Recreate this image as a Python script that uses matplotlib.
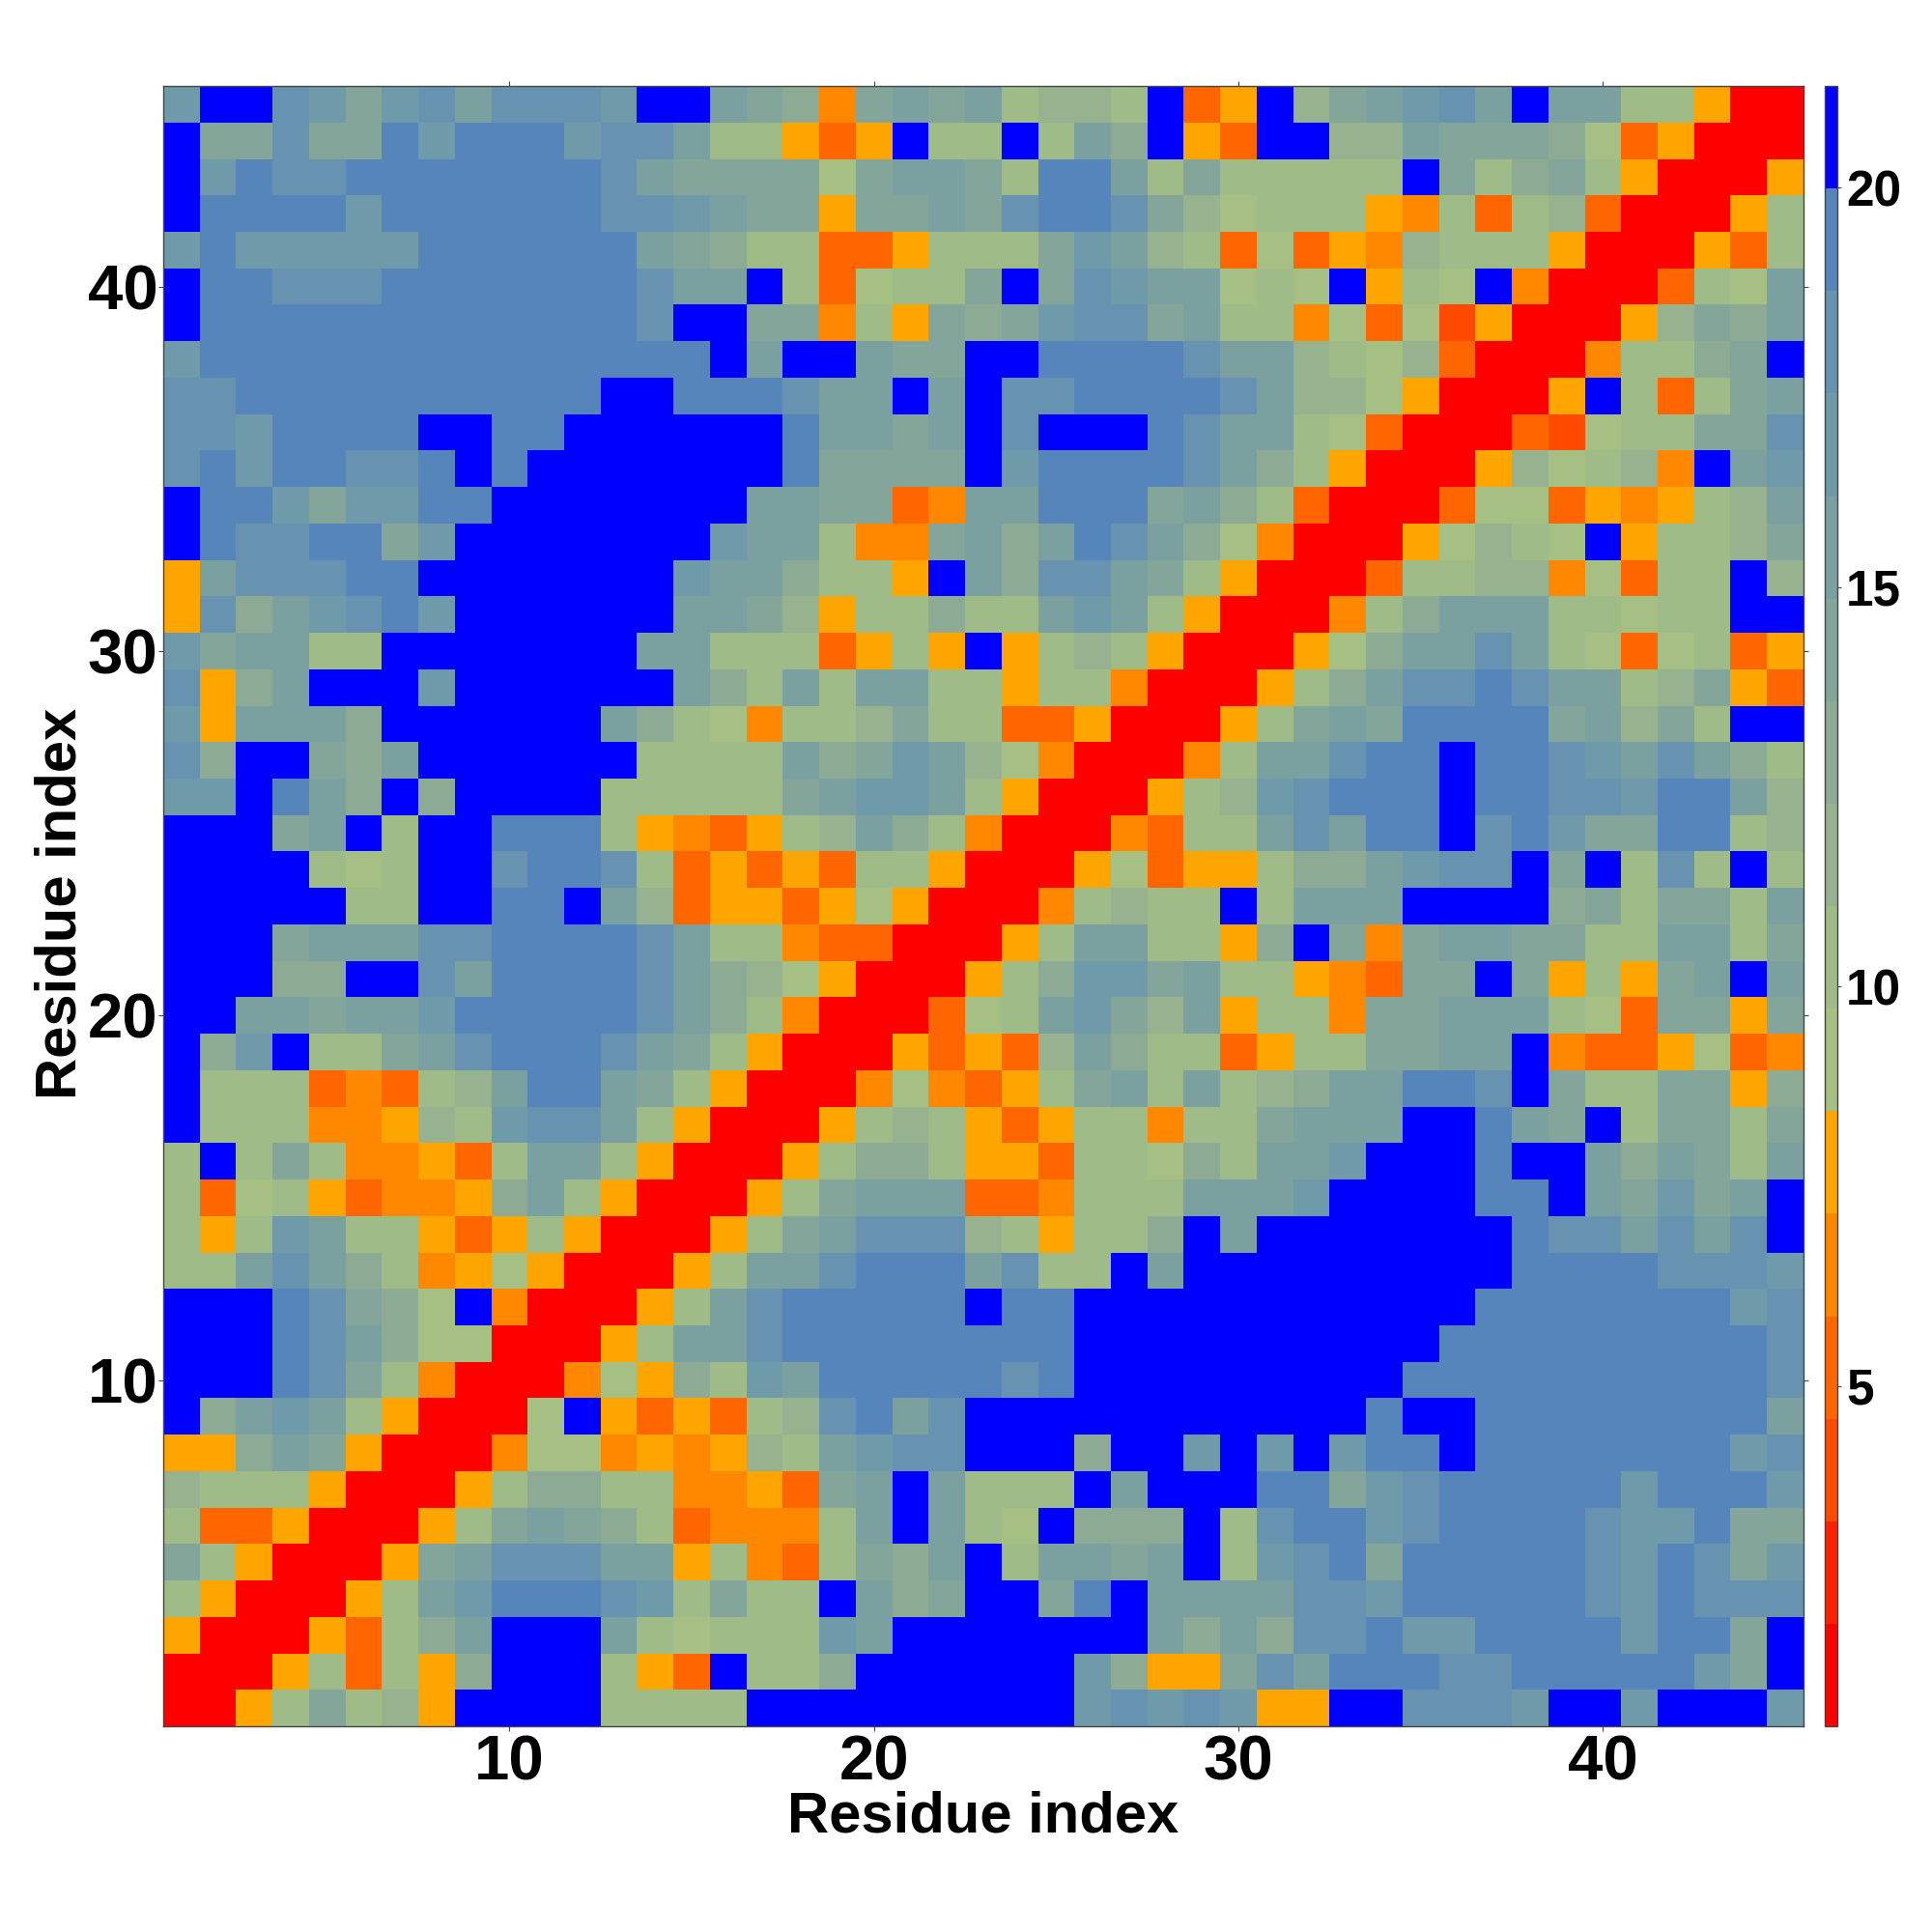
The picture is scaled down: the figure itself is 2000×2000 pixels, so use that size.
import matplotlib
matplotlib.use('Agg')
import matplotlib.pyplot as plt
from matplotlib.colors import ListedColormap, BoundaryNorm
import numpy as np

# distances, lower triangle only (row i has i values), the map is symmetric
rows = [
    [1],
    [1, 1],
    [8, 1, 1],
    [10, 8, 1, 1],
    [14, 10, 8, 1, 1],
    [10, 5, 5, 8, 1, 1],
    [12, 10, 10, 10, 8, 1, 1],
    [8, 8, 13, 15, 14, 8, 1, 1],
    [21, 13, 15, 17, 15, 10, 8, 1, 1],
    [21, 21, 21, 19, 18, 14, 10, 6, 1, 1],
    [21, 21, 21, 19, 18, 15, 13, 9, 9, 1, 1],
    [21, 21, 21, 19, 18, 14, 13, 9, 21, 6, 1, 1],
    [10, 10, 15, 18, 15, 13, 10, 6, 8, 9, 8, 1, 1],
    [10, 8, 10, 17, 15, 10, 10, 8, 5, 8, 10, 8, 1, 1],
    [10, 5, 9, 10, 8, 5, 6, 6, 8, 13, 15, 10, 8, 1, 1],
    [10, 21, 10, 14, 10, 6, 6, 8, 5, 10, 15, 15, 10, 8, 1, 1],
    [21, 10, 10, 10, 6, 6, 8, 12, 10, 17, 18, 18, 15, 10, 8, 1, 1],
    [21, 10, 10, 10, 5, 6, 5, 10, 12, 15, 19, 19, 15, 14, 10, 8, 1, 1],
    [21, 13, 17, 21, 10, 10, 14, 15, 18, 19, 19, 19, 18, 15, 14, 10, 8, 1, 1],
    [21, 21, 15, 15, 14, 15, 15, 17, 19, 19, 19, 19, 19, 18, 15, 13, 10, 6, 1, 1],
    [21, 21, 21, 13, 13, 21, 21, 18, 15, 19, 19, 19, 19, 18, 15, 13, 12, 9, 8, 1, 1],
    [21, 21, 21, 14, 15, 15, 15, 18, 18, 19, 19, 19, 19, 18, 15, 10, 10, 6, 5, 5, 1, 1],
    [21, 21, 21, 21, 21, 10, 10, 21, 21, 19, 19, 21, 15, 12, 5, 8, 8, 5, 8, 9, 8, 1, 1],
    [21, 21, 21, 21, 10, 9, 10, 21, 21, 18, 19, 19, 18, 10, 5, 8, 5, 8, 5, 10, 10, 8, 1, 1],
    [21, 21, 21, 14, 15, 21, 10, 21, 21, 19, 19, 19, 10, 8, 6, 5, 8, 10, 12, 15, 13, 10, 6, 1, 1],
    [17, 17, 21, 19, 15, 13, 21, 13, 21, 21, 21, 21, 10, 10, 10, 10, 10, 14, 15, 17, 17, 15, 10, 8, 1, 1],
    [18, 13, 21, 21, 14, 13, 15, 21, 21, 21, 21, 21, 21, 10, 10, 10, 10, 15, 13, 14, 17, 15, 12, 9, 6, 1, 1],
    [17, 8, 15, 15, 15, 13, 21, 21, 21, 21, 21, 21, 15, 13, 10, 9, 6, 10, 10, 12, 14, 10, 10, 5, 5, 8, 1, 1],
    [18, 8, 13, 15, 21, 21, 21, 17, 21, 21, 21, 21, 21, 21, 15, 13, 10, 15, 10, 15, 15, 10, 10, 8, 10, 10, 6, 1, 1],
    [17, 14, 15, 15, 10, 10, 21, 21, 21, 21, 21, 21, 21, 15, 15, 10, 10, 10, 5, 8, 10, 8, 21, 8, 10, 12, 10, 8, 1, 1],
    [8, 18, 13, 15, 17, 18, 19, 17, 21, 21, 21, 21, 21, 21, 15, 15, 14, 12, 8, 10, 10, 13, 10, 10, 15, 17, 15, 10, 8, 1, 1],
    [8, 15, 18, 18, 18, 19, 19, 21, 21, 21, 21, 21, 21, 21, 17, 15, 15, 13, 10, 10, 8, 21, 15, 13, 18, 18, 15, 14, 10, 8, 1, 1],
    [21, 19, 18, 18, 19, 19, 14, 17, 21, 21, 21, 21, 21, 21, 21, 17, 15, 15, 10, 6, 6, 14, 15, 13, 15, 19, 18, 15, 13, 9, 6, 1, 1],
    [21, 19, 19, 17, 14, 17, 17, 19, 19, 21, 21, 21, 21, 21, 21, 21, 15, 15, 14, 14, 5, 6, 15, 15, 19, 19, 19, 14, 15, 13, 10, 5, 1, 1],
    [18, 19, 17, 19, 19, 18, 18, 19, 21, 19, 21, 21, 21, 21, 21, 21, 21, 19, 14, 14, 14, 14, 21, 17, 19, 19, 19, 19, 18, 15, 13, 10, 8, 1, 1],
    [18, 18, 17, 19, 19, 19, 19, 21, 21, 19, 19, 21, 21, 21, 21, 21, 21, 19, 15, 15, 14, 15, 21, 18, 21, 21, 21, 19, 18, 15, 15, 10, 9, 5, 1, 1],
    [18, 18, 19, 19, 19, 19, 19, 19, 19, 19, 19, 19, 21, 21, 19, 19, 19, 18, 15, 15, 21, 15, 21, 18, 18, 19, 19, 19, 19, 18, 15, 12, 12, 9, 8, 1, 1],
    [17, 19, 19, 19, 19, 19, 19, 19, 19, 19, 19, 19, 19, 19, 19, 21, 15, 21, 21, 15, 14, 14, 21, 21, 19, 19, 19, 19, 18, 15, 15, 12, 10, 9, 12, 5, 1, 1],
    [21, 19, 19, 19, 19, 19, 19, 19, 19, 19, 19, 19, 19, 18, 21, 21, 14, 14, 6, 10, 8, 14, 13, 14, 17, 18, 18, 14, 15, 10, 10, 6, 9, 5, 9, 4, 8, 1, 1],
    [21, 19, 19, 18, 18, 18, 19, 19, 19, 19, 19, 19, 19, 18, 15, 15, 21, 10, 5, 9, 10, 10, 14, 21, 14, 18, 17, 15, 15, 9, 10, 9, 21, 8, 10, 9, 21, 6, 1, 1],
    [17, 19, 17, 17, 17, 17, 17, 19, 19, 19, 19, 19, 19, 15, 14, 13, 10, 10, 5, 5, 8, 10, 10, 10, 14, 17, 15, 12, 10, 5, 9, 5, 8, 6, 12, 10, 10, 10, 8, 1, 1],
    [21, 19, 19, 19, 19, 17, 19, 19, 19, 19, 19, 19, 18, 18, 17, 15, 14, 14, 8, 14, 14, 15, 14, 18, 19, 19, 18, 14, 12, 9, 10, 10, 10, 8, 6, 10, 5, 10, 12, 5, 1, 1],
    [21, 17, 19, 18, 18, 19, 19, 19, 19, 19, 19, 19, 18, 15, 14, 14, 14, 14, 9, 14, 15, 15, 14, 10, 19, 19, 15, 10, 14, 10, 10, 10, 10, 10, 21, 14, 10, 13, 14, 10, 8, 1, 1],
    [21, 14, 14, 18, 14, 14, 19, 17, 19, 19, 19, 17, 18, 18, 15, 10, 10, 8, 5, 8, 21, 10, 10, 21, 10, 15, 13, 21, 8, 5, 21, 21, 12, 12, 15, 14, 14, 14, 13, 9, 5, 8, 1, 1],
    [17, 21, 21, 18, 17, 14, 17, 18, 15, 18, 18, 18, 17, 21, 21, 15, 14, 13, 6, 14, 15, 14, 15, 10, 12, 12, 10, 21, 5, 8, 21, 12, 14, 15, 17, 18, 15, 21, 15, 15, 10, 10, 8, 1, 1],
]

level_colors = ['#ff0000', '#ff2000', '#ff4a00', '#ff6600', '#ff8800', '#ffa500',
                '#a6c083', '#9fbb88', '#96b28e', '#8dab94', '#84a59a', '#7ba0a0',
                '#6f9aa9', '#6792b0', '#5585bb', '#0000ff']
level_edges = np.linspace(0.74, 21.27, 17)
tick_vals = [10, 20, 30, 40]
cbar_ticks = [5, 10, 15, 20]

n = len(rows)
dist = np.zeros((n, n))
for i, row in enumerate(rows):
    for j, val in enumerate(row):
        dist[i, j] = val
        dist[j, i] = val

cmap = ListedColormap(level_colors)
norm = BoundaryNorm(level_edges, cmap.N)

fig = plt.figure(figsize=(10, 10), dpi=200)
ax = fig.add_axes([169 / 2000, 213 / 2000, 1698 / 2000, 1698 / 2000])
cax = fig.add_axes([1889 / 2000, 213 / 2000, 13 / 2000, 1698 / 2000])

im = ax.imshow(dist, origin='lower', cmap=cmap, norm=norm, interpolation='nearest',
               extent=(0.5, n + 0.5, 0.5, n + 0.5), aspect='auto')

ax.set_xticks(tick_vals)
ax.set_yticks(tick_vals)
ax.tick_params(axis='both', which='both', direction='out', length=1.8, width=0.4, color='#444444',
               top=True, right=True, labelsize=23.5)
ax.tick_params(axis='x', pad=1.3)
ax.tick_params(axis='y', pad=0.2)
for lab in ax.get_xticklabels() + ax.get_yticklabels():
    lab.set_family('Liberation Sans')
    lab.set_fontweight('bold')
for side in ax.spines.values():
    side.set_linewidth(0.5)
    side.set_color('#444444')

ax.set_xlabel('Residue index', family='Liberation Sans', fontweight='bold', fontsize=21.5, va='center')
ax.set_ylabel('Residue index', family='Liberation Sans', fontweight='bold', fontsize=21.5, va='center')
ax.xaxis.set_label_coords(0.5, -0.0554)
ax.yaxis.set_label_coords(-0.0626, 0.5014)

cb = fig.colorbar(im, cax=cax, ticks=cbar_ticks, spacing='proportional')
cb.ax.minorticks_off()
cb.ax.tick_params(length=1.44, width=0.4, color='#444444', labelsize=18.5, pad=1.8)
cb.outline.set_linewidth(0.5)
cb.outline.set_edgecolor('#444444')
for lab in cb.ax.get_yticklabels():
    lab.set_family('Liberation Sans')
    lab.set_fontweight('bold')

fig.savefig('out.png', dpi=200)
